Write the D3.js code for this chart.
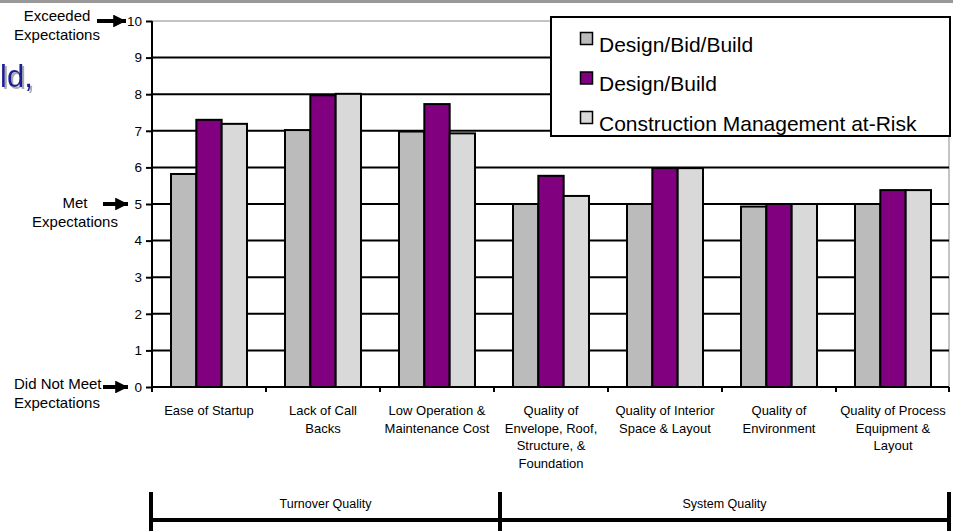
<!DOCTYPE html>
<html>
<head>
<script src="https://d3js.org/d3.v7.min.js"></script>
<style>
body { margin: 0; background: white; }
text { font-family: "Liberation Sans", Arial, sans-serif; }
</style>
</head>
<body>
<div id="chart"></div>
<script>
/* chart data */
var categories = [
    ["Ease of Startup"],
    ["Lack of Call", "Backs"],
    ["Low Operation &", "Maintenance Cost"],
    ["Quality of", "Envelope, Roof,", "Structure, &", "Foundation"],
    ["Quality of Interior", "Space & Layout"],
    ["Quality of", "Environment"],
    ["Quality of Process", "Equipment &", "Layout"]
];
var series = ["Design/Bid/Build", "Design/Build", "Construction Management at-Risk"];
var designBidBuild = [5.82, 7.02, 6.98, 5.0, 5.0, 4.93, 5.0];
var designBuild    = [7.30, 7.97, 7.73, 5.77, 5.98, 5.0, 5.38];
var cmAtRisk       = [7.19, 8.01, 6.93, 5.22, 5.98, 5.0, 5.38];
var yTicks = [0, 1, 2, 3, 4, 5, 6, 7, 8, 9, 10];
var annotations = [
    {value: 10, lines: ["Exceeded", "Expectations"]},
    {value: 5, lines: ["Met", "Expectations"]},
    {value: 0, lines: ["Did Not Meet", "Expectations"]}
];
var groups = [
    {name: "Turnover Quality", from: 0, to: 3},
    {name: "System Quality", from: 3, to: 7}
];

var colors = ["#bbbbbb", "#800080", "#d9d9d9"];
var values = [designBidBuild, designBuild, cmAtRisk];

var svg = d3.select("#chart").append("svg")
    .attr("width", 953)
    .attr("height", 531);

var defs = svg.append("defs");

/* grey band at top */
svg.append("rect")
    .attr("x", 0).attr("y", 0)
    .attr("width", 953).attr("height", 3)
    .attr("fill", "#999999");

/* slide title fragment, with a soft shadow */
var shadow = defs.append("filter").attr("id", "shadow")
    .attr("x", "-20%").attr("y", "-20%").attr("width", "150%").attr("height", "150%");
shadow.append("feDropShadow")
    .attr("dx", 2).attr("dy", 2).attr("stdDeviation", 0.5)
    .attr("flood-color", "#aaaaaa");
svg.append("text")
    .attr("x", 0).attr("y", 87)
    .attr("font-size", "31px")
    .attr("fill", "#1c1c96")
    .attr("filter", "url(#shadow)")
    .text("ld,");

var plotLeft = 152, plotRight = 950, plotTop = 21, plotBottom = 387, frameRight = 949;

var y = d3.scaleLinear().domain([0, 10]).range([plotBottom, plotTop]);
var idx = d3.range(categories.length);
var x0 = d3.scaleBand().domain(idx).range([plotLeft, plotRight]);
var x1 = d3.scaleBand().domain(d3.range(series.length))
    .range([19, x0.bandwidth() - 19]);

/* plot frame (grey) */
svg.append("line")
    .attr("x1", plotLeft).attr("x2", frameRight)
    .attr("y1", y(10)).attr("y2", y(10))
    .attr("stroke", "#888888").attr("stroke-width", 1);
svg.append("line")
    .attr("x1", frameRight).attr("x2", frameRight)
    .attr("y1", y(10)).attr("y2", plotBottom)
    .attr("stroke", "#888888").attr("stroke-width", 1);

/* gridlines */
svg.selectAll(".grid")
    .data(yTicks.filter(function(t) { return t > 0 && t < 10; }))
    .enter().append("line")
    .attr("x1", plotLeft).attr("x2", frameRight)
    .attr("y1", function(d) { return y(d); })
    .attr("y2", function(d) { return y(d); })
    .attr("stroke", "black").attr("stroke-width", 2);

/* bars */
idx.forEach(function(i) {
    var g = svg.append("g").attr("transform", "translate(" + x0(i) + ",0)");
    series.forEach(function(s, j) {
        g.append("rect")
            .attr("x", x1(j))
            .attr("y", y(values[j][i]))
            .attr("width", x1.bandwidth())
            .attr("height", plotBottom - y(values[j][i]))
            .attr("fill", colors[j])
            .attr("stroke", "black")
            .attr("stroke-width", 2);
    });
});

/* y axis */
var yAxis = d3.axisLeft(y).tickValues(yTicks).tickSize(6).tickPadding(4);
var ya = svg.append("g")
    .attr("transform", "translate(" + plotLeft + ",0)")
    .call(yAxis);
ya.select(".domain").attr("stroke-width", 2).attr("d", "M0," + y(10) + "V" + plotBottom);
ya.selectAll(".tick line").attr("stroke-width", 2);
ya.selectAll("text")
    .attr("font-size", "13.5px")
    .attr("font-family", "Liberation Sans, Arial, sans-serif")
    .attr("fill", "black");

/* x axis */
var xa = svg.append("g").attr("transform", "translate(0," + plotBottom + ")");
xa.append("line")
    .attr("x1", plotLeft).attr("x2", frameRight)
    .attr("stroke", "black").attr("stroke-width", 2);
xa.selectAll(".xt")
    .data(d3.range(categories.length + 1))
    .enter().append("line")
    .attr("x1", function(d) { return d < categories.length ? x0(d) : frameRight; })
    .attr("x2", function(d) { return d < categories.length ? x0(d) : frameRight; })
    .attr("y1", 0).attr("y2", 5)
    .attr("stroke", "black").attr("stroke-width", 2);

idx.forEach(function(i) {
    var t = svg.append("text")
        .attr("x", x0(i) + x0.bandwidth() / 2)
        .attr("y", 415)
        .attr("text-anchor", "middle")
        .attr("font-size", "13px")
        .attr("fill", "black");
    categories[i].forEach(function(line, k) {
        t.append("tspan")
            .attr("x", x0(i) + x0.bandwidth() / 2)
            .attr("dy", k ? 17.5 : 0)
            .text(line);
    });
});

/* left annotations with arrows */
defs.append("marker")
    .attr("id", "arrow")
    .attr("viewBox", "0 0 10 10")
    .attr("refX", 10).attr("refY", 5)
    .attr("markerWidth", 3.2).attr("markerHeight", 3.2)
    .attr("markerUnits", "strokeWidth")
    .attr("orient", "auto")
    .append("path").attr("d", "M0,0L10,5L0,10z").attr("fill", "black");

var annPos = [
    {tx: 57, anchor: "middle", ax1: 97, ax2: 126, dy: 0},
    {tx: 75, anchor: "middle", ax1: 103, ax2: 128, dy: 4},
    {tx: 14, anchor: "start", ax1: 103, ax2: 128, dy: 2}
];
annotations.forEach(function(a, i) {
    var p = annPos[i];
    var t = svg.append("text")
        .attr("y", y(a.value) + p.dy)
        .attr("text-anchor", p.anchor)
        .attr("font-size", "15px")
        .attr("fill", "black");
    a.lines.forEach(function(line, k) {
        t.append("tspan").attr("x", p.tx).attr("dy", k ? 18.5 : 0).text(line);
    });
    svg.append("line")
        .attr("x1", p.ax1).attr("x2", p.ax2)
        .attr("y1", y(a.value)).attr("y2", y(a.value))
        .attr("stroke", "black").attr("stroke-width", 4)
        .attr("marker-end", "url(#arrow)");
});

/* legend */
var lg = svg.append("g");
lg.append("rect")
    .attr("x", 551).attr("y", 17)
    .attr("width", 399).attr("height", 119)
    .attr("fill", "white")
    .attr("stroke", "black").attr("stroke-width", 2);
series.forEach(function(s, j) {
    var ry = 32.5 + j * 39.5;
    lg.append("rect")
        .attr("x", 580.5).attr("y", ry)
        .attr("width", 12).attr("height", 12)
        .attr("fill", colors[j])
        .attr("stroke", "black").attr("stroke-width", 1.5);
    lg.append("text")
        .attr("x", 599).attr("y", ry + 19)
        .attr("font-size", "21px")
        .attr("fill", "black")
        .text(s);
});

/* bottom group brackets */
var bl = 151, br = 949;
var bx = function(k) {
    if (k === 0) return bl;
    if (k >= categories.length) return br;
    return x0(k) + 6;
};
svg.append("line")
    .attr("x1", bl - 2).attr("x2", br + 2)
    .attr("y1", 520).attr("y2", 520)
    .attr("stroke", "black").attr("stroke-width", 4);
[0, 3, 7].forEach(function(k) {
    svg.append("line")
        .attr("x1", bx(k)).attr("x2", bx(k))
        .attr("y1", 492).attr("y2", 531)
        .attr("stroke", "black").attr("stroke-width", 4);
});
groups.forEach(function(g) {
    svg.append("text")
        .attr("x", (bx(g.from) + bx(g.to)) / 2)
        .attr("y", 508)
        .attr("text-anchor", "middle")
        .attr("font-size", "12.5px")
        .attr("fill", "black")
        .text(g.name);
});
</script>
</body>
</html>
